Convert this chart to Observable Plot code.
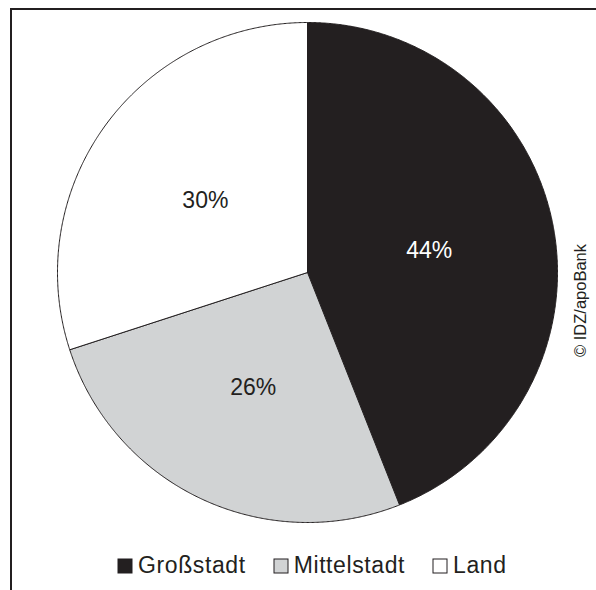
<!DOCTYPE html>
<html>
<head>
<meta charset="utf-8">
<script src="https://cdn.jsdelivr.net/npm/d3@7"></script>
<script src="https://cdn.jsdelivr.net/npm/@observablehq/plot@0.6"></script>
<style>
  html, body { margin: 0; padding: 0; background: #fff; }
  #wrap { position: relative; width: 596px; height: 590px; overflow: hidden; font-family: "Liberation Sans", Arial, sans-serif; }
  #frame { position: absolute; left: 10px; top: 8px; width: 600px; height: 600px; border-top: 2px solid #231f20; border-left: 2px solid #231f20; box-sizing: border-box; }
  #chart { position: absolute; left: 0; top: 0; }
  #legend { position: absolute; left: 118px; top: 552px; }
  .lg-swatches { min-height: 0 !important; margin: 0 !important; font-family: "Liberation Sans", Arial, sans-serif !important; font-size: 23px !important; color: #231f20; letter-spacing: 0.6px; flex-wrap: nowrap !important; }
  .lg-swatch { margin-right: 28px !important; }
  .lg-swatch:first-child { margin-right: 31px !important; }
  .lg-swatch svg { margin-right: 6px !important; overflow: visible; }
  .lg-swatch rect { stroke: #231f20; stroke-width: 1px; }
</style>
</head>
<body>
<div id="wrap">
  <div id="frame"></div>
  <div id="chart"></div>
  <div id="legend"></div>
</div>
<script>
const categories = ["Großstadt", "Mittelstadt", "Land"];
const shares = [44, 26, 30];
const labels = ["44%", "26%", "30%"];
const colors = ["#231f20", "#d1d3d4", "#ffffff"];
const labelColors = ["#ffffff", "#231f20", "#231f20"];
const credit = "© IDZ/apoBank";

const data = categories.map((c, i) => ({category: c, value: shares[i], label: labels[i]}));
const arcs = d3.pie().sort(null).value(d => d.value)(data);

// polygon outline of each slice in unit coordinates (angle measured clockwise from top)
const poly = [];
arcs.forEach((a) => {
  const cat = a.data.category;
  poly.push({category: cat, x: 0, y: 0});
  const n = Math.max(2, Math.ceil((a.endAngle - a.startAngle) / 0.005));
  for (let k = 0; k <= n; k++) {
    const t = a.startAngle + (a.endAngle - a.startAngle) * k / n;
    poly.push({category: cat, x: Math.sin(t), y: Math.cos(t)});
  }
  poly.push({category: cat, x: 0, y: 0});
});

const labelPts = arcs.map(a => {
  const m = (a.startAngle + a.endAngle) / 2;
  return {category: a.data.category, label: a.data.label, x: 0.5 * Math.sin(m), y: 0.5 * Math.cos(m)};
});

const font = "Liberation Sans, Arial, sans-serif";

const chart = Plot.plot({
  width: 596,
  height: 540,
  marginLeft: 57,
  marginRight: 39,
  marginTop: 22,
  marginBottom: 18,
  style: {fontFamily: font, background: "transparent", overflow: "visible"},
  x: {domain: [-1, 1], axis: null},
  y: {domain: [-1, 1], axis: null},
  color: {domain: categories, range: colors},
  marks: [
    Plot.line(poly, {x: "x", y: "y", z: "category", fill: "category", stroke: "#231f20", strokeWidth: 1, curve: "linear"}),
    Plot.text(labelPts, {x: "x", y: "y", text: "label", dx: -1, dy: 2, fill: (d) => labelColors[categories.indexOf(d.category)], fontSize: 23, fontFamily: font, textAnchor: "middle", lineAnchor: "middle", style: "letter-spacing:1px"}),
    Plot.text([credit], {frameAnchor: "right", text: d => d, rotate: -90, dx: 28, dy: 28, fontSize: 16.5, fill: "#231f20", fontFamily: font, textAnchor: "middle", lineAnchor: "bottom"})
  ]
});
document.getElementById("chart").appendChild(chart);

const legend = Plot.legend({
  color: {domain: categories, range: colors, type: "ordinal"},
  legend: "swatches",
  swatchSize: 14,
  className: "lg"
});
document.getElementById("legend").appendChild(legend);
</script>
</body>
</html>
